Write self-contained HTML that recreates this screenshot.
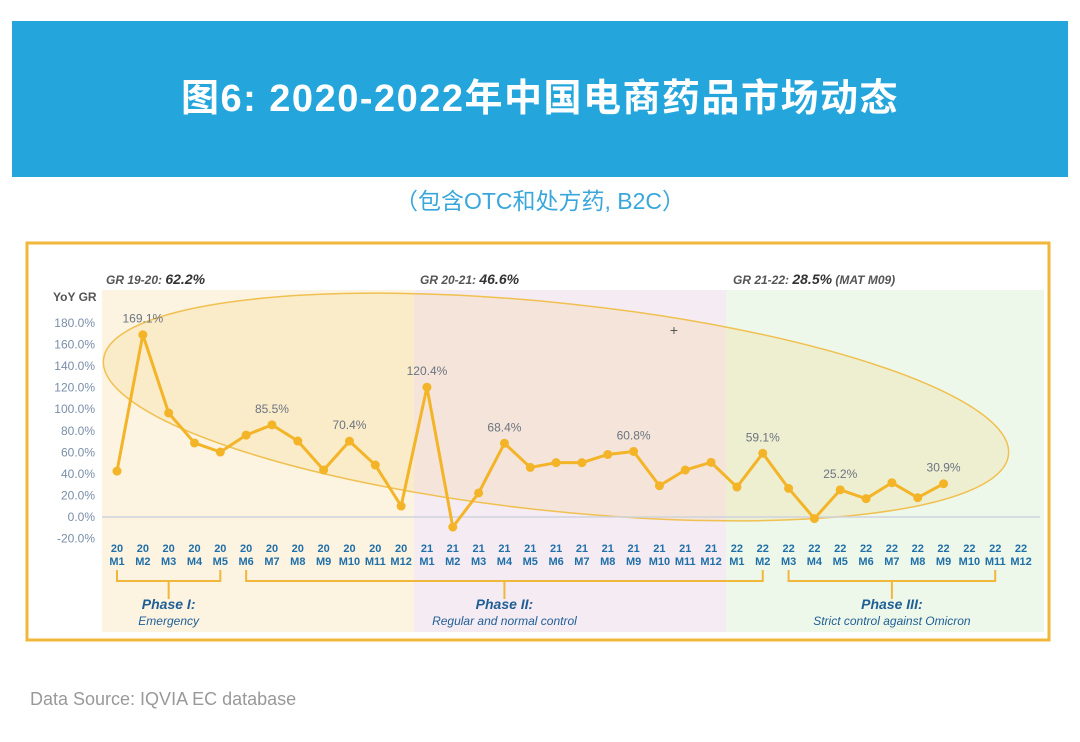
<!DOCTYPE html>
<html><head><meta charset="utf-8"><style>
body{margin:0;background:#fff;width:1080px;height:737px;overflow:hidden;font-family:"Liberation Sans","Noto Sans CJK SC",sans-serif}
</style></head><body>
<svg id="c" width="1080" height="737" xmlns="http://www.w3.org/2000/svg">
<rect x="12" y="21" width="1056" height="156" fill="#24a6dd"/>
<text x="540" y="111" text-anchor="middle" font-size="38" font-weight="bold" letter-spacing="1.5" fill="#fff" font-family="Liberation Sans,Noto Sans CJK SC,sans-serif">图6: 2020-2022年中国电商药品市场动态</text>
<text x="540" y="209" text-anchor="middle" font-size="23" fill="#3aa7dc" font-family="Liberation Sans,Noto Sans CJK SC,sans-serif">（包含OTC和处方药, B2C）</text>
<rect x="27" y="243" width="1022" height="397" fill="#fff" stroke="#f0b73a" stroke-width="3"/>
<rect x="102" y="290" width="312" height="342" fill="#fcf3e1"/>
<rect x="414" y="290" width="312" height="342" fill="#f5ebf3"/>
<rect x="726" y="290" width="318" height="342" fill="#eef8ea"/>
<text x="106" y="284" font-size="12" font-style="italic" font-weight="bold" fill="#555">GR 19-20: <tspan font-size="14" fill="#333">62.2%</tspan></text>
<text x="420" y="284" font-size="12" font-style="italic" font-weight="bold" fill="#555">GR 20-21: <tspan font-size="14" fill="#333">46.6%</tspan></text>
<text x="733" y="284" font-size="12" font-style="italic" font-weight="bold" fill="#555">GR 21-22: <tspan font-size="14" fill="#333">28.5%</tspan> (MAT M09)</text>
<text x="53" y="301" font-size="12" font-weight="bold" fill="#555">YoY GR</text>
<ellipse cx="556" cy="407" rx="455" ry="104" transform="rotate(6 556 407)" fill="rgba(240,190,80,0.16)" stroke="#f0c050" stroke-width="1.5"/>
<text x="674" y="335" font-size="14" fill="#555" text-anchor="middle">+</text>
<g id="axes"></g><g id="marks"></g>
<text x="30" y="705" font-size="18" fill="#999">Data Source: IQVIA EC database</text>
</svg>
<script>
const years=["20","21","22"];
const months=["M1","M2","M3","M4","M5","M6","M7","M8","M9","M10","M11","M12"];
const values=[42.6,169.1,96.5,68.7,60.3,76,85.5,70.5,43.6,70.4,48.2,10.2,120.4,-9.3,22.3,68.4,46,50.4,50.4,58,60.8,29,43.6,50.7,27.8,59.1,26.6,-1.5,25.2,17,31.8,17.9,30.9];
const labelled=[1,6,9,12,15,20,25,28,32];
const yTicks=[-20,0,20,40,60,80,100,120,140,160,180];
const phaseTitles=["Phase I:","Phase II:","Phase III:"];
const phaseSubs=["Emergency","Regular and normal control","Strict control against Omicron"];
const phaseRanges=[[0,4],[5,25],[26,34]];
const NS="http://www.w3.org/2000/svg";
const x=i=>117+i*25.83, y=v=>517-v*194/180;
const ax=document.getElementById('axes'), mk=document.getElementById('marks');
function el(t,a,p){const e=document.createElementNS(NS,t);for(const k in a)e.setAttribute(k,a[k]);p.appendChild(e);return e;}
yTicks.forEach(v=>{const t=el('text',{x:95,y:y(v)+4,'text-anchor':'end','font-size':12,fill:'#7a8ea8'},ax);t.textContent=v.toFixed(1)+'%';

});
const zl=el('line',{x1:102,x2:1040,y1:y(0),y2:y(0),stroke:'#cfd3dc','stroke-width':1.5},ax);


years.forEach((yr,yi)=>months.forEach((m,mi)=>{const i=yi*12+mi;
const t=el('text',{x:x(i),y:552,'text-anchor':'middle','font-size':11,'font-weight':'bold',fill:'#1f6fa8'},ax);t.textContent=yr;


const t2=el('text',{x:x(i),y:565,'text-anchor':'middle','font-size':11,'font-weight':'bold',fill:'#1f6fa8'},ax);t2.textContent=m;

}));
phaseRanges.forEach((r,k)=>{const a=x(r[0]),b=x(r[1]),c=(a+b)/2;
const p=el('path',{d:`M${a} 570 V581 H${b} V570 M${c} 581 V599`,fill:'none',stroke:'#f0b73a','stroke-width':2},ax);


const t=el('text',{x:c,y:609,'text-anchor':'middle','font-size':14,'font-weight':'bold','font-style':'italic',fill:'#1f5f96'},ax);t.textContent=phaseTitles[k];


const s=el('text',{x:c,y:625,'text-anchor':'middle','font-size':12,'font-style':'italic',fill:'#1f5f96'},ax);s.textContent=phaseSubs[k];

});
const line=el('polyline',{points:values.map((v,i)=>x(i)+','+y(v)).join(' '),fill:'none',stroke:'#f4b428','stroke-width':3,'stroke-linejoin':'round'},mk);


values.forEach((v,i)=>{const c=el('circle',{cx:x(i),cy:y(v),r:4.5,fill:'#f4b428'},mk);


if(labelled.includes(i)){const t=el('text',{x:x(i),y:y(v)-12,'text-anchor':'middle','font-size':12,fill:'#6b7480'},mk);t.textContent=v.toFixed(1)+'%';

}});
</script>
</body></html>
